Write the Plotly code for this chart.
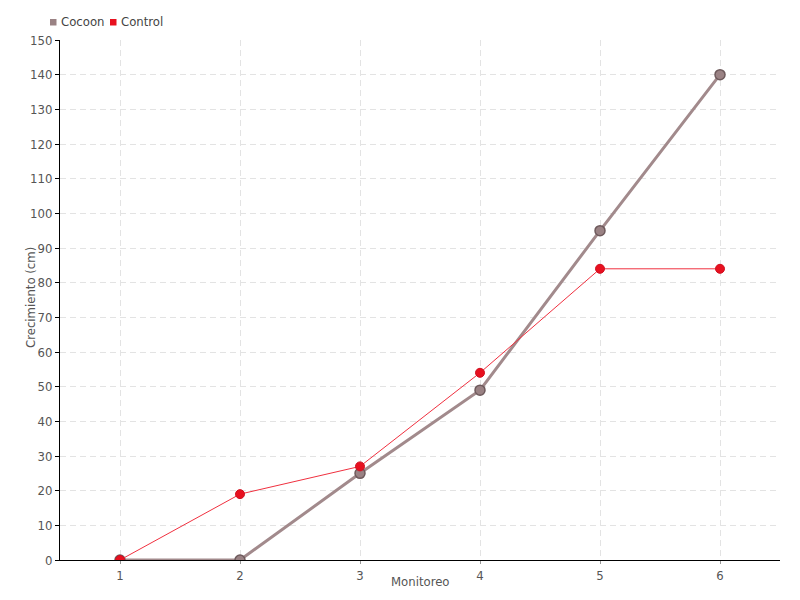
import plotly.graph_objects as go

monitoreo = [1, 2, 3, 4, 5, 6]
cocoon = [0, 0, 25, 49, 95, 140]
control = [0, 19, 27, 54, 84, 84]
series_names = ["Cocoon", "Control"]

FONT = "DejaVu Sans Condensed, sans-serif"
TXT = "#555555"
COC_LINE = "#a28a8c"
COC_FILL = "#9a8284"
CTL = "#e8101f"
GRID = "#e3e3e3"

# page body has an 8px margin -> figure sized/margined to put plot area at (60,40)-(780,560)
PW, PH = 720, 520

fig = go.Figure()
fig.add_trace(go.Scatter(
    x=monitoreo, y=cocoon, name=series_names[0], mode="lines+markers",
    line=dict(color=COC_LINE, width=3),
    marker=dict(size=10, color=COC_FILL, line=dict(color="#6e5a5c", width=1.5)),
))
fig.add_trace(go.Scatter(
    x=monitoreo, y=control, name=series_names[1], mode="lines+markers",
    line=dict(color="#f0303f", width=1),
    marker=dict(size=9, color=CTL, line=dict(color="#d01020", width=1)),
))

def px_x(p):
    return (p - 60) / PW

def px_y(p):
    return (560 - p) / PH

shapes = []
annotations = []
legend_items = [(series_names[0], COC_FILL, 50, 59), (series_names[1], CTL, 110, 119)]
for name, col, sq_x, tx_x in legend_items:
    shapes.append(dict(type="rect", xref="paper", yref="paper",
                       x0=px_x(sq_x), x1=px_x(sq_x + 6.5), y0=px_y(25.5), y1=px_y(19),
                       fillcolor=col, line=dict(width=0)))
    annotations.append(dict(text=name, xref="paper", yref="paper", x=px_x(tx_x), y=px_y(22),
                            xanchor="left", yanchor="middle", showarrow=False,
                            font=dict(size=13, color="#444444")))

annotations.append(dict(text="Monitoreo", xref="paper", yref="paper", x=0.5, y=px_y(581),
                        xanchor="center", yanchor="middle", showarrow=False,
                        font=dict(size=13, color=TXT)))
annotations.append(dict(text="Crecimiento (cm)", xref="paper", yref="paper", x=px_x(30), y=px_y(298),
                        xanchor="center", yanchor="middle", textangle=-90, showarrow=False,
                        font=dict(size=13, color=TXT)))

fig.update_layout(
    width=792, height=592,
    margin=dict(l=52, r=20, t=32, b=40, autoexpand=False),
    paper_bgcolor="white", plot_bgcolor="white",
    font=dict(family=FONT, size=13, color=TXT),
    showlegend=False,
    xaxis=dict(
        range=[0.5, 6.5], tickvals=monitoreo, ticktext=[str(v) for v in monitoreo],
        showline=True, linecolor="black", linewidth=1,
        ticks="outside", ticklen=3, tickcolor="#999999",
        showgrid=True, gridcolor=GRID, griddash="6px,4px", gridwidth=1,
        zeroline=False, automargin=False,
    ),
    yaxis=dict(
        range=[0, 150], dtick=10,
        showline=True, linecolor="black", linewidth=1,
        ticks="outside", ticklen=4, tickcolor="black",
        showgrid=True, gridcolor=GRID, griddash="6px,4px", gridwidth=1,
        zeroline=False, automargin=False,
    ),
    shapes=shapes,
    annotations=annotations,
)

fig.write_html("out.html")
